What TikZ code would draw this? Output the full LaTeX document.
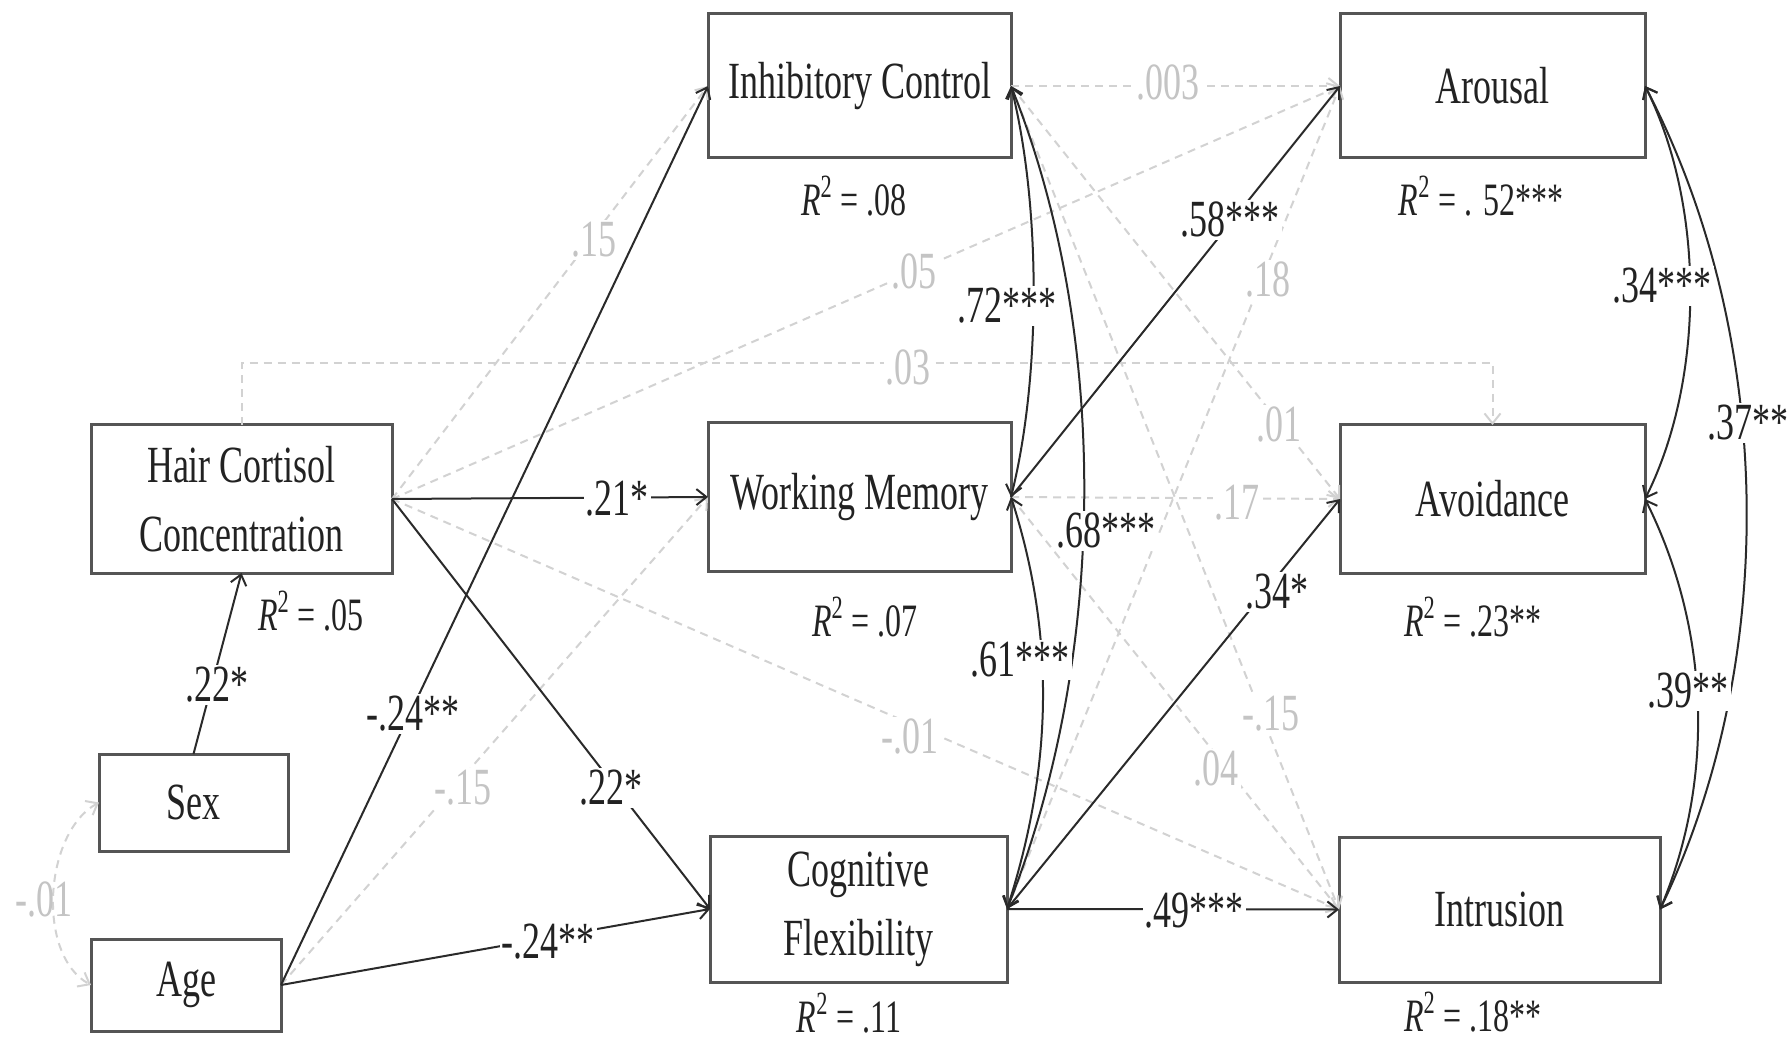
\documentclass[tikz,border=0pt]{standalone}
\usepackage{fontspec}
\setmainfont{Liberation Serif}
\usepackage{graphicx}
\usetikzlibrary{arrows.meta}
\definecolor{boxc}{HTML}{555555}
\definecolor{lc}{HTML}{2A2A2A}
\definecolor{gc}{HTML}{D2D2D2}
\definecolor{txt}{HTML}{222222}
\definecolor{gtxt}{HTML}{C4C4C4}
\newcommand{\tl}[1]{\scalebox{1}[1.45]{#1}}
\newcommand{\rsq}[1]{\tl{\textit{R}\textsuperscript{2} = #1}}
\begin{document}
\begin{tikzpicture}[x=0.5pt,y=-0.5pt,
  pbox/.style={draw=boxc, line width=1.5pt, fill=white, inner sep=0pt, outer sep=0pt,
    align=center, text=txt, font=\fontsize{18}{34.5}\selectfont},
  tip/.tip={Straight Barb[length=5pt,width=8pt]},
  blk/.style={draw=lc, line width=1pt, -tip},
  gry/.style={draw=gc, line width=1pt, dash pattern=on 4pt off 3pt, -tip},
  covar/.style={draw=lc, line width=1pt, tip-tip},
  gcovar/.style={draw=gc, line width=1pt, dash pattern=on 4pt off 3pt, tip-tip},
  lab/.style={fill=white, inner sep=1pt, text=txt, font=\fontsize{18}{20}\selectfont},
  glab/.style={lab, text=gtxt},
  rlab/.style={inner sep=0pt, text=txt, font=\fontsize{16}{18}\selectfont}]
\fill[white] (0,0) rectangle (1791,1042);
\useasboundingbox (0,0) rectangle (1791,1042);

% boxes
\node[pbox, minimum width=151.5pt, minimum height=72pt] (IC) at (859.5,86) {\tl{Inhibitory Control}};
\node[pbox, minimum width=151.5pt, minimum height=74pt] (WM) at (859.5,497) {\tl{Working Memory}};
\node[pbox, minimum width=148.5pt, minimum height=73pt] (CF) at (858.5,909) {\tl{Cognitive}\\\tl{Flexibility}};
\node[pbox, minimum width=152.5pt, minimum height=72pt] (AR) at (1492.5,86) {\tl{Arousal}};
\node[pbox, minimum width=152.5pt, minimum height=74pt] (AV) at (1492.5,499) {\tl{Avoidance}};
\node[pbox, minimum width=160.5pt, minimum height=72.5pt] (IN) at (1499.5,909.5) {\tl{Intrusion}};
\node[pbox, minimum width=150.5pt, minimum height=74pt] (HC) at (241.5,499) {\tl{Hair Cortisol}\\\tl{Concentration}};
\node[pbox, minimum width=94.5pt, minimum height=48.5pt] (SEX) at (193.5,802.5) {\tl{Sex}};
\node[pbox, minimum width=95pt, minimum height=46pt] (AGE) at (186,985) {\tl{Age}};

% R squared
\node[rlab] (r1) at (854,196) {\rsq{.08}};
\node[rlab] (r2) at (1481,196) {\rsq{. 52***}};
\node[rlab] (r3) at (311,611) {\rsq{.05}};
\node[rlab] (r4) at (865,617) {\rsq{.07}};
\node[rlab] (r5) at (1473,617) {\rsq{.23**}};
\node[rlab] (r6) at (849,1013) {\rsq{.11}};
\node[rlab] (r7) at (1473,1012) {\rsq{.18**}};

% non-significant paths
\draw[gry] (HC.east) -- (IC.west);
\draw[gry] (HC.east) -- (AR.west);
\draw[gry] (HC.east) -- (IN.west);
\draw[gry] (HC.north) -- ++(0,-62) -| (AV.north);
\draw[gry] (AGE.east) -- (WM.west);
\draw[gcovar] (SEX.west) .. controls +(-55,30) and +(-55,-30) .. (AGE.west);
\draw[gry] (IC.east) -- (AR.west);
\draw[gry] (WM.east) -- (AV.west);
\draw[gry] (IC.east) -- (AV.west);
\draw[gry] (IC.east) -- (IN.west);
\draw[gry] (CF.east) -- (AR.west);
\draw[gry] (WM.east) -- (IN.west);

\node[glab] (g1) at (594,240) {\tl{.15}};
\node[glab] (g2) at (914,272) {\tl{.05}};
\node[glab] (g3) at (908,368) {\tl{.03}};
\node[glab] (g4) at (463,788) {\tl{-.15}};
\node[glab] (g5) at (910,737) {\tl{-.01}};
\node[glab, fill=none] (g6) at (44,900) {\tl{-.01}};
\node[glab] (g7) at (1168,83) {\tl{.003}};
\node[glab] (g8) at (1268,280) {\tl{.18}};
\node[glab] (g9) at (1279,425) {\tl{.01}};
\node[glab] (g10) at (1237,503) {\tl{.17}};
\node[glab] (g11) at (1271,714) {\tl{-.15}};
\node[glab] (g12) at (1216,769) {\tl{.04}};

% significant paths
\draw[blk] (SEX.north) -- (HC.south);
\draw[blk] (AGE.east) -- (IC.west);
\draw[blk] (HC.east) -- (WM.west);
\draw[blk] (HC.east) -- (CF.west);
\draw[blk] (AGE.east) -- (CF.west);
\draw[blk] (WM.east) -- (AR.west);
\draw[blk] (CF.east) -- (AV.west);
\draw[blk] (CF.east) -- (IN.west);

% covariances
\draw[covar] (IC.east) .. controls +(30,120) and +(30,-120) .. (WM.east);
\draw[covar] (IC.east) .. controls +(100,250) and +(100,-250) .. (CF.east);
\draw[covar] (WM.east) .. controls +(45,140) and +(45,-140) .. (CF.east);
\draw[covar] (AR.east) .. controls +(60,120) and +(60,-120) .. (AV.east);
\draw[covar] (AR.east) .. controls +(130,250) and +(120,-250) .. (IN.east);
\draw[covar] (AV.east) .. controls +(65,130) and +(55,-130) .. (IN.east);

\node[lab] (l1) at (217,685) {\tl{.22*}};
\node[lab] (l2) at (413,714) {\tl{-.24**}};
\node[lab] (l3) at (617,499) {\tl{.21*}};
\node[lab] (l4) at (611,788) {\tl{.22*}};
\node[lab] (l5) at (548,942) {\tl{-.24**}};
\node[lab] (l6) at (1230,220) {\tl{.58***}};
\node[lab] (l7) at (1277,592) {\tl{.34*}};
\node[lab] (l8) at (1194,911) {\tl{.49***}};
\node[lab] (l9) at (1007,306) {\tl{.72***}};
\node[lab] (l10) at (1106,531) {\tl{.68***}};
\node[lab] (l11) at (1020,660) {\tl{.61***}};
\node[lab] (l12) at (1662,286) {\tl{.34***}};
\node[lab] (l13) at (1748,423) {\tl{.37**}};
\node[lab] (l14) at (1688,691) {\tl{.39**}};
\end{tikzpicture}
\end{document}
